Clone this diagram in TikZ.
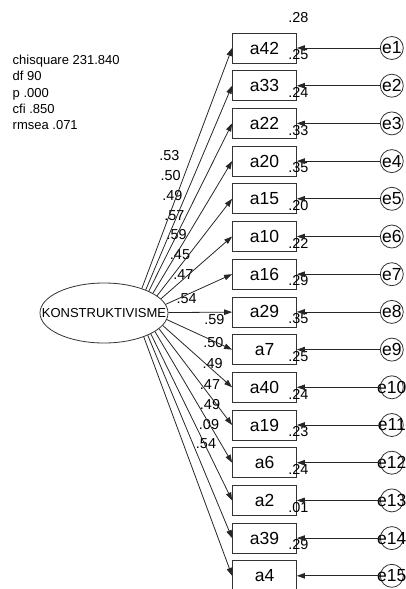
\documentclass[tikz,border=0pt]{standalone}
\usepackage{fontspec}
\setmainfont{Liberation Sans}
\usetikzlibrary{positioning, shapes.geometric, arrows.meta}

\newcommand{\etext}[1]{\makebox[0pt]{#1}}

\begin{document}
\begin{tikzpicture}[x=1pt, y=-1pt,
  obs/.style={rectangle, draw=black!80, line width=0.8pt, minimum width=64pt, minimum height=30pt, inner sep=0pt, font=\fontsize{17.5}{20}\selectfont},
  lat/.style={ellipse, draw=black!80, line width=0.8pt, minimum width=128pt, minimum height=60pt, inner sep=0pt, font=\fontsize{13}{15}\selectfont},
  err/.style={circle, draw=black!80, line width=0.8pt, minimum size=23pt, inner sep=0pt, font=\fontsize{17.5}{20}\selectfont},
  est/.style={inner sep=0pt, font=\fontsize{14.4}{16}\selectfont},
  load/.style={-{Triangle[length=8pt,width=5.5pt]}, line width=0.8pt, black!85},
  resid/.style={-{Triangle[length=8pt,width=5.5pt]}, line width=0.8pt, black!85}]

\useasboundingbox (0,0) rectangle (406,589);

% fit indices
\node[anchor=north west, align=left, inner sep=0pt, font=\fontsize{13}{16.2}\selectfont] (fit) at (12.5,55) {chisquare 231.840\\df 90\\p .000\\cfi .850\\rmsea .071};

\node[lat] (K) at (104,313) {\etext{KONSTRUKTIVISME}};

% observed items
\node[obs] at (264.5,48) (a42) {a42};
\node[obs] at (264.5,85.7) (a33) {a33};
\node[obs] at (264.5,123.4) (a22) {a22};
\node[obs] at (264.5,161.1) (a20) {a20};
\node[obs] at (264.5,198.8) (a15) {a15};
\node[obs] at (264.5,236.5) (a10) {a10};
\node[obs] at (264.5,274.2) (a16) {a16};
\node[obs] at (264.5,311.9) (a29) {a29};
\node[obs] at (264.5,349.6) (a7) {a7};
\node[obs] at (264.5,387.3) (a40) {a40};
\node[obs] at (264.5,425) (a19) {a19};
\node[obs] at (264.5,462.7) (a6) {a6};
\node[obs] at (264.5,500.4) (a2) {a2};
\node[obs] at (264.5,538.1) (a39) {a39};
\node[obs] at (264.5,575.8) (a4) {a4};

% errors
\node[err, right = 83pt of a42] (e1) {\etext{e1}};
\node[err, right = 83pt of a33] (e2) {\etext{e2}};
\node[err, right = 83pt of a22] (e3) {\etext{e3}};
\node[err, right = 83pt of a20] (e4) {\etext{e4}};
\node[err, right = 83pt of a15] (e5) {\etext{e5}};
\node[err, right = 83pt of a10] (e6) {\etext{e6}};
\node[err, right = 83pt of a16] (e7) {\etext{e7}};
\node[err, right = 83pt of a29] (e8) {\etext{e8}};
\node[err, right = 83pt of a7] (e9) {\etext{e9}};
\node[err, right = 83pt of a40] (e10) {\etext{e10}};
\node[err, right = 83pt of a19] (e11) {\etext{e11}};
\node[err, right = 83pt of a6] (e12) {\etext{e12}};
\node[err, right = 83pt of a2] (e13) {\etext{e13}};
\node[err, right = 83pt of a39] (e14) {\etext{e14}};
\node[err, right = 83pt of a4] (e15) {\etext{e15}};

% squared multiple correlations
\node[est] at ([shift={(1.5,-15.5)}]a42.north east) (r42) {.28};
\node[est] at ([shift={(1.5,-15.5)}]a33.north east) (r33) {.25};
\node[est] at ([shift={(1.5,-15.5)}]a22.north east) (r22) {.24};
\node[est] at ([shift={(1.5,-15.5)}]a20.north east) (r20) {.33};
\node[est] at ([shift={(1.5,-15.5)}]a15.north east) (r15) {.35};
\node[est] at ([shift={(1.5,-15.5)}]a10.north east) (r10) {.20};
\node[est] at ([shift={(1.5,-15.5)}]a16.north east) (r16) {.22};
\node[est] at ([shift={(1.5,-15.5)}]a29.north east) (r29) {.29};
\node[est] at ([shift={(1.5,-15.5)}]a7.north east) (r7) {.35};
\node[est] at ([shift={(1.5,-15.5)}]a40.north east) (r40) {.25};
\node[est] at ([shift={(1.5,-15.5)}]a19.north east) (r19) {.24};
\node[est] at ([shift={(1.5,-15.5)}]a6.north east) (r6) {.23};
\node[est] at ([shift={(1.5,-15.5)}]a2.north east) (r2) {.24};
\node[est] at ([shift={(1.5,-15.5)}]a39.north east) (r39) {.01};
\node[est] at ([shift={(1.5,-15.5)}]a4.north east) (r4) {.29};

% loadings
\node[est] at (169.3,156) (l42) {.53};
\node[est] at (170.7,175.3) (l33) {.50};
\node[est] at (172.3,195.7) (l22) {.49};
\node[est] at (174.3,215.7) (l20) {.57};
\node[est] at (176.7,234.3) (l15) {.59};
\node[est] at (180,254.3) (l10) {.45};
\node[est] at (183.3,274.3) (l16) {.47};
\node[est] at (186.7,299) (l29) {.54};
\node[est] at (214.3,320) (l7) {.59};
\node[est] at (213.3,342.3) (l40) {.50};
\node[est] at (212.7,364) (l19) {.49};
\node[est] at (210,385) (l6) {.47};
\node[est] at (210,405) (l2) {.49};
\node[est] at (209,424.3) (l39) {.09};
\node[est] at (206,444) (l4) {.54};

\draw[load] (K.33) -- (a42.west);
\draw[load] (K.29) -- (a33.west);
\draw[load] (K.26) -- (a22.west);
\draw[load] (K.22) -- (a20.west);
\draw[load] (K.18) -- (a15.west);
\draw[load] (K.14) -- (a10.west);
\draw[load] (K.8) -- (a16.west);
\draw[load] (K) -- (a29);
\draw[load] (K.-6) -- (a7.west);
\draw[load] (K.-12) -- (a40.west);
\draw[load] (K.-16) -- (a19.west);
\draw[load] (K.-20) -- (a6.west);
\draw[load] (K.-24) -- (a2.west);
\draw[load] (K.-27) -- (a39.west);
\draw[load] (K.-31) -- (a4.west);

\draw[resid] (e1) -- (a42);
\draw[resid] (e2) -- (a33);
\draw[resid] (e3) -- (a22);
\draw[resid] (e4) -- (a20);
\draw[resid] (e5) -- (a15);
\draw[resid] (e6) -- (a10);
\draw[resid] (e7) -- (a16);
\draw[resid] (e8) -- (a29);
\draw[resid] (e9) -- (a7);
\draw[resid] (e10) -- (a40);
\draw[resid] (e11) -- (a19);
\draw[resid] (e12) -- (a6);
\draw[resid] (e13) -- (a2);
\draw[resid] (e14) -- (a39);
\draw[resid] (e15) -- (a4);
\end{tikzpicture}
\end{document}
